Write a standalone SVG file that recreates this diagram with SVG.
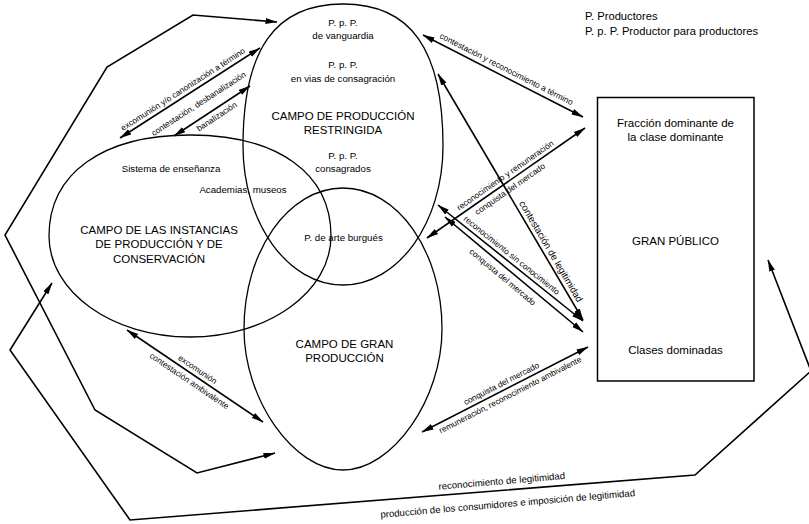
<svg xmlns="http://www.w3.org/2000/svg" width="809" height="524" viewBox="0 0 809 524">
<defs>
<marker id="ah" viewBox="0 0 12 8" markerWidth="12" markerHeight="8" refX="11.5" refY="4" orient="auto-start-reverse" markerUnits="userSpaceOnUse"><path d="M0,1 L12,4 L0,7 Z" fill="#000"/></marker>
<style>
.n{font-family:"Liberation Sans",Arial,sans-serif;fill:#000;text-anchor:middle}
.big{font-size:11.5px}
.sm{font-size:9.7px}
.leg{font-family:"Liberation Sans",Arial,sans-serif;fill:#000;font-size:11.2px}
.lbl{font-family:"Liberation Sans",Arial,sans-serif;font-size:8.3px;text-anchor:middle;fill:#000}
.lbl2{font-size:9.6px}
.shape{fill:none;stroke:#000;stroke-width:1.3}
.box{fill:#fff;stroke:#000;stroke-width:1.5}
.c{fill:none;stroke:#000;stroke-width:1.6;marker-end:url(#ah)}
.d{marker-start:url(#ah)}
</style>
</defs>
<rect width="809" height="524" fill="#fff"/>

<g id="legend">
<text class="leg" x="585" y="19.5">P. Productores</text>
<text class="leg" x="585" y="34.5">P. p. P. Productor para productores</text>
</g>

<g id="campo-instancias">
<path class="shape" d="M49,236 C49,173.4 102.6,135 190,135 C277.4,135 331,173.4 331,236 C331,291.8 267.8,337 190,337 C112.2,337 49,291.8 49,236 Z"/>
<text class="n sm" x="171" y="172">Sistema de enseñanza</text>
<text class="n sm" x="243" y="193">Academias, museos</text>
<text class="n big" x="159" y="234">CAMPO DE LAS INSTANCIAS</text>
<text class="n big" x="159" y="248">DE PRODUCCIÓN Y DE</text>
<text class="n big" x="159" y="262.5">CONSERVACIÓN</text>
</g>

<g id="campo-restringida">
<path class="shape" d="M343,4 C275,4 243,49.4 243,146 C243,222.7 287.8,285 343,285 C398.2,285 443,222.7 443,146 C443,49.4 411,4 343,4 Z"/>
<text class="n sm" x="343" y="26">P. p. P.</text>
<text class="n sm" x="343" y="38.5">de vanguardia</text>
<text class="n sm" x="343" y="68">P. p. P.</text>
<text class="n sm" x="343" y="82">en vias de consagración</text>
<text class="n big" x="343" y="120">CAMPO DE PRODUCCIÓN</text>
<text class="n big" x="343" y="134">RESTRINGIDA</text>
<text class="n sm" x="343" y="159">P. p. P.</text>
<text class="n sm" x="343" y="172">consagrados</text>
</g>

<g id="campo-gran-produccion">
<path class="shape" d="M244,329 C244,251.2 288.3,188 343,188 C397.7,188 442,251.2 442,329 C442,399.5 392.5,470 343,470 C293.5,470 244,399.5 244,329 Z"/>
<text class="n sm" x="343.5" y="241">P. de arte burgués</text>
<text class="n big" x="344.5" y="348">CAMPO DE GRAN</text>
<text class="n big" x="344.5" y="362">PRODUCCIÓN</text>
</g>

<g id="gran-publico">
<rect class="box" x="597.5" y="97.5" width="156.5" height="283.5"/>
<text class="n big" x="675.5" y="127">Fracción dominante de</text>
<text class="n big" x="675.5" y="141">la clase dominante</text>
<text class="n big" x="675.5" y="245">GRAN PÚBLICO</text>
<text class="n big" x="675.5" y="354">Clases dominadas</text>
</g>

<g id="connectors">
<polyline class="c d" points="275,453 197,473 95,410 5,235 107,67 193,15 277,22"/>
<polyline class="c d" points="52,283 10,350 130,520 695,475 811,371 768,260"/>
<line class="c d" x1="120" y1="138" x2="260" y2="48"/>
<line class="c d" x1="174" y1="136" x2="250" y2="86"/>
<line class="c d" x1="423" y1="35" x2="583" y2="117"/>
<line class="c d" x1="438" y1="74" x2="583" y2="320"/>
<line class="c d" x1="427" y1="238" x2="585" y2="128"/>
<line class="c d" x1="438" y1="205" x2="583" y2="321"/>
<line class="c d" x1="445" y1="217" x2="583" y2="332"/>
<line class="c d" x1="422" y1="432" x2="588" y2="347"/>
<line class="c d" x1="127" y1="330" x2="263" y2="422"/>

<text class="lbl" transform="translate(186.6,95.1) rotate(-32.7)" y="-4">excomunión y/o canonización a término</text>
<text class="lbl" transform="translate(198.5,103.5) rotate(-33)" y="3">contestación, desbanalización</text>
<text class="lbl" transform="translate(212.8,110.5) rotate(-33.3)" y="10">banalización</text>
<text class="lbl" transform="translate(502.9,76) rotate(27.1)" y="-5">contestación y reconocimiento a término</text>
<text class="lbl" transform="translate(509,181) rotate(-34.85)" y="-4">reconocimiento y remuneración</text>
<text class="lbl" transform="translate(505.9,183.1) rotate(-34.85)" y="10">conquista del mercado</text>
<text class="lbl lbl2" transform="translate(544.7,255.1) rotate(59.5)" y="-4">contestación de legitimidad</text>
<text class="lbl" transform="translate(507.5,260.6) rotate(38.7)" y="-4">reconocimiento sin conocimiento</text>
<text class="lbl" transform="translate(508.5,269.9) rotate(39.8)" y="12">conquista del mercado</text>
<text class="lbl" transform="translate(504.5,389.7) rotate(-27.1)" y="-4">conquista del mercado</text>
<text class="lbl" transform="translate(506.9,388.5) rotate(-27.1)" y="10">remuneración, reconocimiento ambivalente</text>
<text class="lbl" transform="translate(193.7,375.1) rotate(34.1)" y="-4">excomunión</text>
<text class="lbl" transform="translate(193.3,374.9) rotate(34.1)" y="10">contestación ambivalente</text>
<text class="lbl lbl2" transform="translate(502.5,490.3) rotate(-4.9)" y="-6">reconocimiento de legitimidad</text>
<text class="lbl lbl2" transform="translate(506.5,490) rotate(-4.9)" y="17">producción de los consumidores e imposición de legitimidad</text>
</g>
</svg>
